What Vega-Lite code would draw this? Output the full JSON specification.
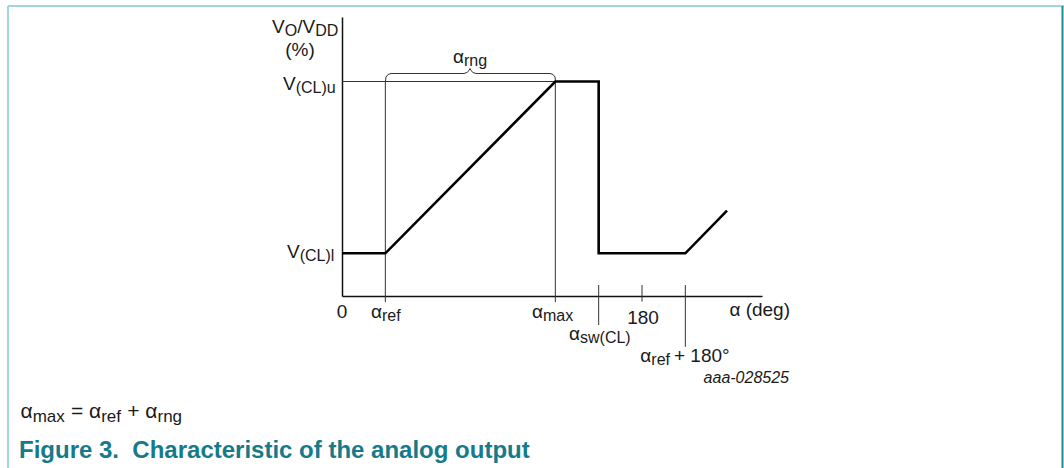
{
  "$schema": "https://vega.github.io/schema/vega-lite/v6.json",
  "width": 420,
  "height": 279,
  "autosize": "none",
  "padding": {"left": 342, "top": 17, "right": 302, "bottom": 172},
  "background": "white",
  "config": {
    "view": {"stroke": null},
    "text": {"font": "Liberation Sans", "color": "#1a1a1a", "baseline": "alphabetic"}
  },
  "datasets": {
    "path": [
      {"i": 1, "x": 0, "y": 15.3},
      {"i": 2, "x": 26, "y": 15.3},
      {"i": 3, "x": 128, "y": 76.88},
      {"i": 4, "x": 154, "y": 76.88},
      {"i": 5, "x": 154, "y": 15.3},
      {"i": 6, "x": 206, "y": 15.3},
      {"i": 7, "x": 231, "y": 30.57}
    ],
    "segments": [
      {"x": 0, "x2": 128, "y": 76.88, "y2": 76.88},
      {"x": 26, "x2": 26, "y": 76.88, "y2": -2.2},
      {"x": 128, "x2": 128, "y": 76.88, "y2": -2.2},
      {"x": 154, "x2": 154, "y": 3.94, "y2": -10.4},
      {"x": 180, "x2": 180, "y": 3.94, "y2": -2.0},
      {"x": 206, "x2": 206, "y": 3.94, "y2": -18.2}
    ],
    "brace": [
      {"i": 1, "x": 26.1, "y": 77.06},
      {"i": 2, "x": 26.4, "y": 78.49},
      {"i": 3, "x": 27.6, "y": 79.39},
      {"i": 4, "x": 29.4, "y": 79.75},
      {"i": 5, "x": 73.2, "y": 79.75},
      {"i": 6, "x": 75.0, "y": 80.11},
      {"i": 7, "x": 76.2, "y": 80.82},
      {"i": 8, "x": 76.8, "y": 81.54},
      {"i": 9, "x": 77.4, "y": 80.82},
      {"i": 10, "x": 78.6, "y": 80.11},
      {"i": 11, "x": 80.4, "y": 79.75},
      {"i": 12, "x": 124.8, "y": 79.75},
      {"i": 13, "x": 126.6, "y": 79.39},
      {"i": 14, "x": 127.8, "y": 78.49},
      {"i": 15, "x": 128.1, "y": 77.06}
    ],
    "frameLight": [
      {"x": -200.4, "x2": 433.2, "y": 103.94, "y2": 103.94},
      {"x": -200.4, "x2": -200.4, "y": 103.94, "y2": -61.7}
    ],
    "frameDark": [
      {"x": 432.3, "x2": 432.3, "y": 103.94, "y2": -61.7}
    ],
    "subLabels": [
      {"x": -34.4, "y": 94.27, "main": "V", "sub": "O"},
      {"x": -16.1, "y": 94.27, "main": "/V", "sub": "DD"},
      {"x": 73.2, "y": 83.51, "main": "α", "sub": "rng"},
      {"x": -27.8, "y": 74.01, "main": "V", "sub": "(CL)u"},
      {"x": -25.4, "y": 13.62, "main": "V", "sub": "(CL)l"},
      {"x": 24.0, "y": -7.89, "main": "α", "sub": "ref"},
      {"x": 120.6, "y": -7.89, "main": "α", "sub": "max"},
      {"x": 142.8, "y": -15.77, "main": "α", "sub": "sw(CL)"},
      {"x": 185.6, "y": -23.66, "main": "α", "sub": "ref"}
    ],
    "centerLabels": [
      {"x": -25.2, "y": 86.2, "t": "(%)"},
      {"x": 0, "y": -7.89, "t": "0"},
      {"x": 180.6, "y": -10.04, "t": "180"}
    ],
    "rightLabels": [
      {"x": 268.8, "y": -7.17, "t": "α (deg)"}
    ],
    "leftLabels": [
      {"x": 199.2, "y": -23.66, "t": "+ 180°"}
    ],
    "code": [
      {"x": 268.2, "y": -31.18, "t": "aaa-028525"}
    ],
    "equation": [
      {"x": -185.6, "y": -43.73, "main": "α", "sub": "max"},
      {"x": -144.5, "y": -43.73, "main": "= α", "sub": "ref"},
      {"x": -110.7, "y": -43.73, "main": "+ α", "sub": "rng"}
    ],
    "figure": [
      {"x": -193.8, "y": -58.06, "t": "Figure 3.\u00a0 Characteristic of the analog output"}
    ]
  },
  "encoding": {
    "x": {"field": "x", "type": "quantitative", "scale": {"domain": [0, 252], "nice": false, "zero": false},
          "axis": {"domain": true, "domainColor": "#111111", "domainWidth": 1.5, "ticks": false, "labels": false, "grid": false, "title": null}},
    "y": {"field": "y", "type": "quantitative", "scale": {"domain": [0, 100], "nice": false, "zero": false},
          "axis": {"domain": true, "domainColor": "#111111", "domainWidth": 1.5, "ticks": false, "labels": false, "grid": false, "title": null}}
  },
  "layer": [
    {"data": {"name": "frameLight"}, "mark": {"type": "rule", "color": "#a3d5dc", "strokeWidth": 2},
     "encoding": {"x2": {"field": "x2"}, "y2": {"field": "y2"}}},
    {"data": {"name": "frameDark"}, "mark": {"type": "rule", "color": "#1f8b9b", "strokeWidth": 2},
     "encoding": {"x2": {"field": "x2"}, "y2": {"field": "y2"}}},
    {"data": {"name": "segments"}, "mark": {"type": "rule", "color": "#333333", "strokeWidth": 1},
     "encoding": {"x2": {"field": "x2"}, "y2": {"field": "y2"}}},
    {"data": {"name": "brace"}, "mark": {"type": "line", "color": "#333333", "strokeWidth": 1},
     "encoding": {"order": {"field": "i", "type": "quantitative"}}},
    {"data": {"name": "path"}, "mark": {"type": "line", "color": "#000000", "strokeWidth": 2.6, "strokeJoin": "miter"},
     "encoding": {"order": {"field": "i", "type": "quantitative"}}},
    {"data": {"name": "subLabels"}, "mark": {"type": "text", "align": "right", "fontSize": 19},
     "encoding": {"text": {"field": "main"}}},
    {"data": {"name": "subLabels"}, "mark": {"type": "text", "align": "left", "fontSize": 16, "dy": 3},
     "encoding": {"text": {"field": "sub"}}},
    {"data": {"name": "centerLabels"}, "mark": {"type": "text", "align": "center", "fontSize": 19},
     "encoding": {"text": {"field": "t"}}},
    {"data": {"name": "rightLabels"}, "mark": {"type": "text", "align": "right", "fontSize": 19},
     "encoding": {"text": {"field": "t"}}},
    {"data": {"name": "leftLabels"}, "mark": {"type": "text", "align": "left", "fontSize": 19},
     "encoding": {"text": {"field": "t"}}},
    {"data": {"name": "code"}, "mark": {"type": "text", "align": "right", "fontSize": 16, "fontStyle": "italic"},
     "encoding": {"text": {"field": "t"}}},
    {"data": {"name": "equation"}, "mark": {"type": "text", "align": "right", "fontSize": 21},
     "encoding": {"text": {"field": "main"}}},
    {"data": {"name": "equation"}, "mark": {"type": "text", "align": "left", "fontSize": 17, "dy": 4},
     "encoding": {"text": {"field": "sub"}}},
    {"data": {"name": "figure"}, "mark": {"type": "text", "align": "left", "fontSize": 24, "fontWeight": "bold", "color": "#167a8a"},
     "encoding": {"text": {"field": "t"}}}
  ]
}
